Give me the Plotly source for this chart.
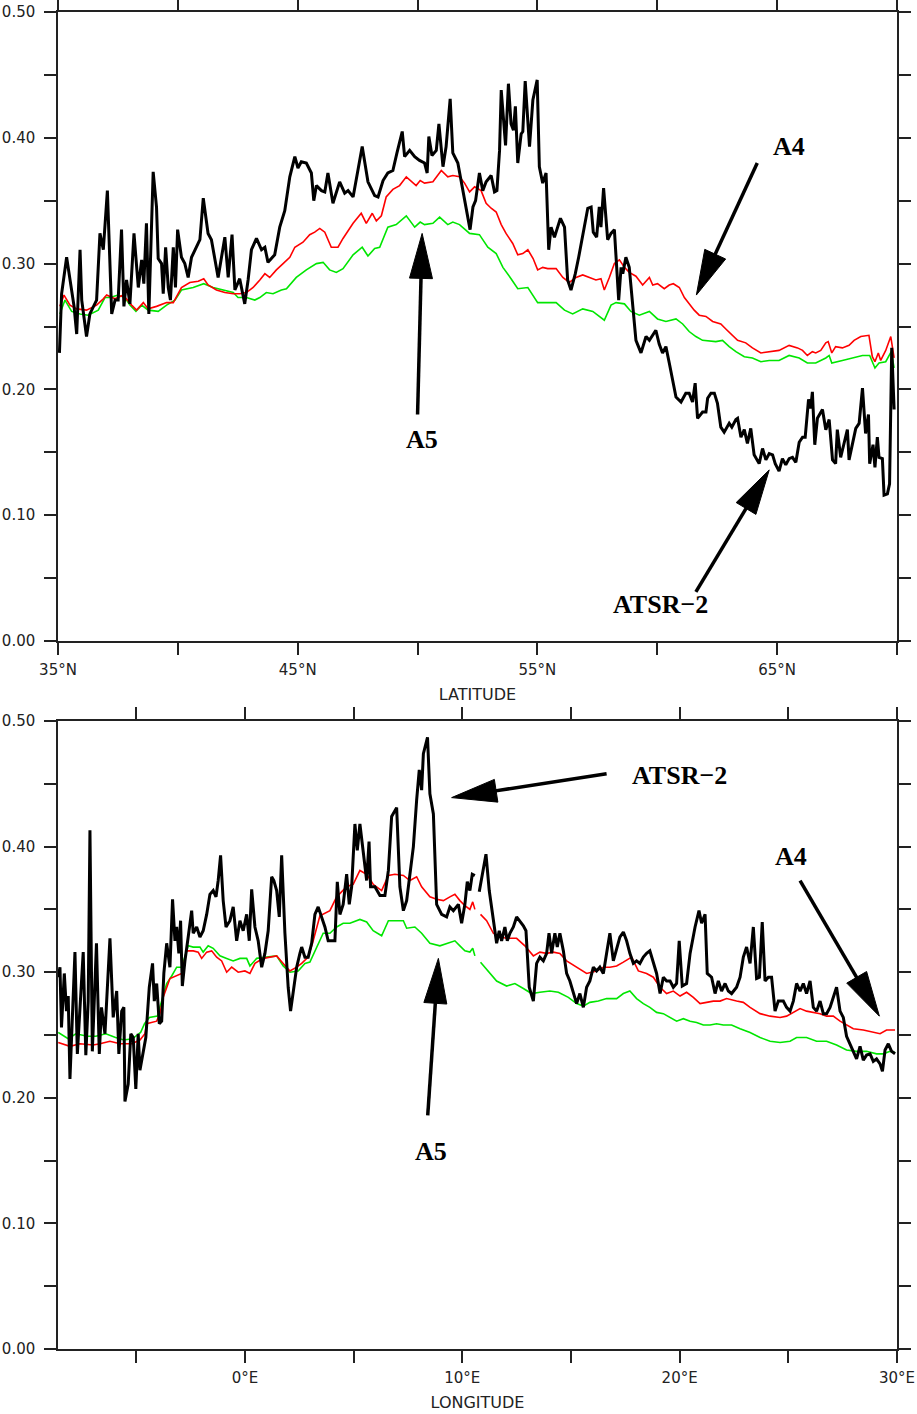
import plotly.graph_objects as go

# ---------------- data ----------------
# Top panel: latitude (deg N) vs value
top_black = [
    (35.06, 0.229), (35.15, 0.276), (35.36, 0.305), (35.57, 0.279), (35.67, 0.266), (35.78, 0.244),
    (35.92, 0.311), (35.99, 0.271), (36.19, 0.242), (36.33, 0.260), (36.61, 0.271), (36.75, 0.324),
    (36.89, 0.311), (37.06, 0.358), (37.24, 0.260), (37.38, 0.271), (37.51, 0.271), (37.65, 0.327),
    (37.75, 0.266), (37.86, 0.287), (38.00, 0.268), (38.17, 0.324), (38.35, 0.281), (38.49, 0.303),
    (38.58, 0.284), (38.69, 0.332), (38.79, 0.260), (38.97, 0.373), (39.11, 0.345), (39.18, 0.304),
    (39.32, 0.300), (39.39, 0.276), (39.49, 0.313), (39.60, 0.281), (39.69, 0.271), (39.81, 0.313),
    (39.90, 0.281), (39.99, 0.327), (40.15, 0.305), (40.29, 0.300), (40.43, 0.289), (40.57, 0.305),
    (40.78, 0.313), (40.92, 0.319), (41.06, 0.352), (41.26, 0.324), (41.40, 0.319), (41.54, 0.303),
    (41.68, 0.289), (41.82, 0.305), (41.96, 0.321), (42.10, 0.289), (42.26, 0.323), (42.38, 0.279),
    (42.58, 0.288), (42.79, 0.268), (42.93, 0.287), (43.07, 0.311), (43.28, 0.320), (43.49, 0.311),
    (43.63, 0.313), (43.76, 0.301), (44.04, 0.307), (44.25, 0.329), (44.46, 0.342), (44.67, 0.369),
    (44.88, 0.385), (45.01, 0.376), (45.15, 0.381), (45.36, 0.380), (45.57, 0.372), (45.67, 0.350),
    (45.78, 0.362), (45.99, 0.358), (46.13, 0.357), (46.26, 0.372), (46.47, 0.348), (46.75, 0.365),
    (46.96, 0.356), (47.10, 0.358), (47.31, 0.353), (47.51, 0.374), (47.69, 0.393), (47.93, 0.365),
    (48.21, 0.354), (48.35, 0.353), (48.56, 0.366), (48.76, 0.372), (48.97, 0.374), (49.14, 0.388),
    (49.36, 0.405), (49.46, 0.385), (49.67, 0.390), (49.88, 0.385), (50.08, 0.382), (50.29, 0.380),
    (50.40, 0.372), (50.47, 0.401), (50.60, 0.386), (50.78, 0.390), (50.89, 0.411), (51.06, 0.377),
    (51.19, 0.393), (51.36, 0.431), (51.47, 0.388), (51.68, 0.380), (51.89, 0.358), (52.03, 0.342),
    (52.19, 0.327), (52.31, 0.345), (52.42, 0.350), (52.58, 0.372), (52.72, 0.358), (52.86, 0.365),
    (53.07, 0.370), (53.21, 0.357), (53.31, 0.358), (53.42, 0.390), (53.49, 0.438), (53.67, 0.394),
    (53.79, 0.443), (53.90, 0.411), (54.00, 0.406), (54.08, 0.425), (54.18, 0.380), (54.32, 0.403),
    (54.39, 0.405), (54.49, 0.445), (54.67, 0.393), (54.81, 0.430), (54.99, 0.446), (55.08, 0.377),
    (55.22, 0.364), (55.36, 0.372), (55.47, 0.311), (55.57, 0.329), (55.71, 0.321), (55.81, 0.327),
    (55.96, 0.336), (56.13, 0.329), (56.26, 0.287), (56.40, 0.279), (56.58, 0.292), (56.72, 0.305),
    (56.82, 0.316), (56.96, 0.329), (57.10, 0.344), (57.24, 0.345), (57.33, 0.325), (57.47, 0.321),
    (57.58, 0.345), (57.65, 0.329), (57.76, 0.360), (57.93, 0.319), (58.07, 0.324), (58.21, 0.327),
    (58.39, 0.271), (58.49, 0.297), (58.56, 0.292), (58.69, 0.305), (58.83, 0.297), (59.11, 0.239),
    (59.32, 0.229), (59.53, 0.242), (59.67, 0.239), (59.94, 0.247), (60.08, 0.236), (60.22, 0.229),
    (60.36, 0.234), (60.50, 0.221), (60.64, 0.207), (60.78, 0.194), (60.99, 0.190), (61.19, 0.197),
    (61.33, 0.197), (61.47, 0.190), (61.58, 0.205), (61.68, 0.177), (61.89, 0.182), (62.03, 0.182),
    (62.10, 0.193), (62.24, 0.197), (62.38, 0.197), (62.51, 0.189), (62.65, 0.170), (62.79, 0.166),
    (63.00, 0.173), (63.11, 0.170), (63.28, 0.176), (63.35, 0.177), (63.49, 0.162), (63.63, 0.168),
    (63.76, 0.157), (63.90, 0.169), (64.04, 0.148), (64.25, 0.141), (64.39, 0.153), (64.53, 0.144),
    (64.67, 0.149), (64.81, 0.148), (64.92, 0.141), (65.08, 0.135), (65.22, 0.145), (65.36, 0.140),
    (65.50, 0.145), (65.64, 0.146), (65.78, 0.142), (65.92, 0.158), (66.06, 0.162), (66.17, 0.162),
    (66.31, 0.192), (66.40, 0.185), (66.47, 0.198), (66.57, 0.156), (66.68, 0.177), (66.89, 0.184),
    (67.03, 0.168), (67.17, 0.176), (67.31, 0.144), (67.44, 0.141), (67.51, 0.168), (67.65, 0.146),
    (67.79, 0.157), (67.93, 0.168), (68.00, 0.144), (68.14, 0.157), (68.28, 0.169), (68.42, 0.173),
    (68.56, 0.201), (68.69, 0.165), (68.81, 0.180), (68.86, 0.141), (69.00, 0.156), (69.08, 0.138),
    (69.18, 0.162), (69.25, 0.146), (69.39, 0.145), (69.46, 0.116), (69.60, 0.117), (69.69, 0.125),
    (69.78, 0.233), (69.88, 0.184),
]

top_red = [
    (35.08, 0.266), (35.25, 0.275), (35.50, 0.267), (35.78, 0.264), (36.19, 0.263), (36.61, 0.267),
    (36.89, 0.272), (37.03, 0.275), (37.38, 0.272), (37.72, 0.275), (38.07, 0.267), (38.28, 0.263),
    (38.56, 0.269), (38.76, 0.264), (39.11, 0.266), (39.53, 0.269), (39.81, 0.269), (40.15, 0.281),
    (40.50, 0.285), (40.85, 0.286), (41.08, 0.288), (41.26, 0.283), (41.61, 0.279), (41.96, 0.277),
    (42.31, 0.276), (42.58, 0.276), (42.86, 0.277), (43.14, 0.281), (43.42, 0.287), (43.63, 0.292),
    (43.83, 0.289), (44.11, 0.295), (44.39, 0.300), (44.67, 0.305), (44.88, 0.313), (45.22, 0.317),
    (45.50, 0.323), (45.71, 0.325), (45.92, 0.328), (46.13, 0.325), (46.40, 0.313), (46.68, 0.313),
    (46.89, 0.320), (47.31, 0.332), (47.65, 0.340), (47.86, 0.332), (48.11, 0.340), (48.28, 0.334),
    (48.49, 0.338), (48.69, 0.353), (48.97, 0.359), (49.25, 0.362), (49.53, 0.369), (49.74, 0.365),
    (49.94, 0.362), (50.11, 0.366), (50.29, 0.364), (50.64, 0.365), (50.99, 0.374), (51.26, 0.369),
    (51.47, 0.370), (51.75, 0.369), (51.96, 0.364), (52.17, 0.357), (52.38, 0.361), (52.65, 0.358),
    (52.86, 0.348), (53.07, 0.344), (53.28, 0.341), (53.49, 0.331), (53.69, 0.324), (53.97, 0.316),
    (54.18, 0.307), (54.39, 0.308), (54.60, 0.311), (54.82, 0.304), (55.01, 0.295), (55.22, 0.297),
    (55.43, 0.296), (55.78, 0.296), (56.06, 0.289), (56.33, 0.285), (56.61, 0.289), (56.89, 0.291),
    (57.17, 0.289), (57.44, 0.287), (57.65, 0.288), (57.79, 0.279), (58.00, 0.289), (58.21, 0.300),
    (58.42, 0.303), (58.63, 0.297), (58.83, 0.293), (59.11, 0.290), (59.39, 0.283), (59.67, 0.289),
    (59.81, 0.283), (60.01, 0.284), (60.29, 0.280), (60.50, 0.283), (60.67, 0.284), (60.92, 0.281),
    (61.13, 0.273), (61.33, 0.268), (61.54, 0.263), (61.75, 0.259), (62.03, 0.258), (62.31, 0.254),
    (62.65, 0.252), (62.86, 0.248), (63.14, 0.243), (63.35, 0.239), (63.69, 0.237), (63.97, 0.233),
    (64.32, 0.229), (64.67, 0.230), (65.08, 0.231), (65.50, 0.235), (65.85, 0.233), (66.06, 0.231),
    (66.26, 0.227), (66.47, 0.230), (66.61, 0.229), (66.82, 0.231), (67.03, 0.237), (67.13, 0.238),
    (67.28, 0.229), (67.44, 0.234), (67.72, 0.233), (68.00, 0.235), (68.21, 0.239), (68.49, 0.242),
    (68.83, 0.243), (68.97, 0.226), (69.08, 0.222), (69.22, 0.229), (69.32, 0.223), (69.53, 0.231),
    (69.74, 0.242), (69.88, 0.225),
]

top_green = [
    (35.08, 0.260), (35.29, 0.271), (35.57, 0.262), (35.92, 0.260), (36.26, 0.259), (36.68, 0.263),
    (36.96, 0.273), (37.17, 0.273), (37.51, 0.275), (37.79, 0.273), (38.00, 0.267), (38.25, 0.262),
    (38.49, 0.267), (38.76, 0.263), (39.18, 0.262), (39.53, 0.267), (39.88, 0.271), (40.15, 0.279),
    (40.64, 0.281), (41.08, 0.284), (41.47, 0.281), (41.89, 0.279), (42.31, 0.277), (42.51, 0.273),
    (42.86, 0.273), (43.21, 0.271), (43.42, 0.273), (43.69, 0.277), (43.97, 0.276), (44.32, 0.279),
    (44.53, 0.280), (44.94, 0.289), (45.36, 0.295), (45.78, 0.300), (46.06, 0.301), (46.33, 0.295),
    (46.61, 0.293), (46.89, 0.296), (47.31, 0.307), (47.69, 0.313), (47.93, 0.306), (48.21, 0.312),
    (48.42, 0.313), (48.76, 0.329), (49.11, 0.331), (49.53, 0.338), (49.88, 0.329), (50.11, 0.333),
    (50.29, 0.331), (50.64, 0.332), (50.92, 0.337), (51.26, 0.331), (51.47, 0.333), (51.75, 0.331),
    (52.17, 0.324), (52.58, 0.323), (52.93, 0.313), (53.28, 0.308), (53.56, 0.297), (53.90, 0.288),
    (54.18, 0.280), (54.60, 0.281), (55.01, 0.269), (55.36, 0.269), (55.78, 0.269), (56.13, 0.263),
    (56.47, 0.260), (56.89, 0.264), (57.31, 0.262), (57.79, 0.255), (58.07, 0.267), (58.28, 0.269),
    (58.63, 0.268), (58.90, 0.262), (59.25, 0.259), (59.67, 0.262), (60.01, 0.256), (60.36, 0.254),
    (60.78, 0.256), (61.06, 0.252), (61.33, 0.246), (61.61, 0.242), (61.89, 0.239), (62.44, 0.238),
    (62.72, 0.239), (63.00, 0.234), (63.28, 0.230), (63.63, 0.226), (63.97, 0.225), (64.32, 0.222),
    (64.67, 0.223), (65.08, 0.223), (65.50, 0.227), (65.92, 0.225), (66.26, 0.221), (66.61, 0.221),
    (67.03, 0.225), (67.17, 0.227), (67.28, 0.221), (67.72, 0.223), (68.14, 0.225), (68.56, 0.227),
    (68.86, 0.227), (69.08, 0.217), (69.25, 0.221), (69.53, 0.222), (69.76, 0.230), (69.88, 0.217),
]

# Bottom panel: longitude (deg E) vs value; None marks the data gap
bot_black = [
    (-8.59, 0.296), (-8.51, 0.304), (-8.44, 0.256), (-8.31, 0.299), (-8.21, 0.269), (-8.13, 0.281),
    (-8.05, 0.215), (-7.98, 0.251), (-7.82, 0.316), (-7.71, 0.235), (-7.59, 0.267), (-7.44, 0.316),
    (-7.32, 0.234), (-7.21, 0.277), (-7.13, 0.413), (-7.02, 0.237), (-6.83, 0.323), (-6.70, 0.235),
    (-6.60, 0.272), (-6.44, 0.251), (-6.21, 0.327), (-6.06, 0.264), (-5.90, 0.285), (-5.80, 0.235),
    (-5.67, 0.269), (-5.57, 0.272), (-5.52, 0.197), (-5.37, 0.211), (-5.25, 0.251), (-5.14, 0.248),
    (-5.02, 0.207), (-4.91, 0.251), (-4.83, 0.222), (-4.68, 0.238), (-4.56, 0.248), (-4.40, 0.288),
    (-4.25, 0.307), (-4.17, 0.277), (-4.06, 0.291), (-3.94, 0.259), (-3.83, 0.261), (-3.73, 0.299),
    (-3.60, 0.323), (-3.45, 0.304), (-3.33, 0.358), (-3.22, 0.325), (-3.14, 0.336), (-3.04, 0.315),
    (-2.96, 0.341), (-2.88, 0.289), (-2.76, 0.309), (-2.61, 0.328), (-2.45, 0.349), (-2.38, 0.331),
    (-2.22, 0.336), (-2.07, 0.328), (-1.92, 0.333), (-1.76, 0.346), (-1.61, 0.362), (-1.46, 0.365),
    (-1.33, 0.360), (-1.23, 0.373), (-1.12, 0.393), (-1.00, 0.357), (-0.87, 0.336), (-0.69, 0.341),
    (-0.54, 0.352), (-0.38, 0.325), (-0.23, 0.341), (-0.08, 0.333), (0.08, 0.346), (0.20, 0.325),
    (0.31, 0.366), (0.46, 0.336), (0.61, 0.325), (0.77, 0.304), (0.92, 0.315), (1.07, 0.333),
    (1.23, 0.376), (1.33, 0.373), (1.46, 0.365), (1.58, 0.344), (1.69, 0.393), (1.84, 0.331),
    (1.99, 0.288), (2.10, 0.269), (2.22, 0.285), (2.38, 0.304), (2.53, 0.315), (2.61, 0.320),
    (2.76, 0.312), (2.91, 0.312), (3.07, 0.323), (3.22, 0.346), (3.37, 0.352), (3.53, 0.344),
    (3.68, 0.336), (3.83, 0.325), (3.99, 0.325), (4.14, 0.325), (4.25, 0.372), (4.37, 0.346),
    (4.52, 0.354), (4.68, 0.378), (4.80, 0.354), (4.91, 0.368), (5.06, 0.418), (5.17, 0.397),
    (5.29, 0.418), (5.44, 0.394), (5.60, 0.373), (5.71, 0.404), (5.78, 0.368), (5.98, 0.368),
    (6.21, 0.361), (6.44, 0.361), (6.60, 0.381), (6.75, 0.424), (6.98, 0.431), (7.13, 0.368),
    (7.29, 0.349), (7.44, 0.357), (7.59, 0.378), (7.75, 0.400), (7.90, 0.437), (8.02, 0.461),
    (8.13, 0.445), (8.21, 0.474), (8.40, 0.487), (8.51, 0.442), (8.67, 0.426), (8.82, 0.354),
    (9.05, 0.346), (9.28, 0.344), (9.43, 0.352), (9.59, 0.349), (9.82, 0.354), (9.97, 0.339),
    (10.12, 0.354), (10.23, 0.372), (10.35, 0.365), (10.46, 0.378), (10.58, 0.377), (10.68, None),
    (10.78, 0.364), (10.97, 0.381), (11.09, 0.394), (11.24, 0.365), (11.40, 0.344), (11.58, 0.323),
    (11.70, 0.333), (11.81, 0.325), (11.96, 0.336), (12.07, 0.325), (12.19, 0.331), (12.35, 0.336),
    (12.50, 0.344), (12.65, 0.341), (12.81, 0.337), (12.93, 0.333), (13.08, 0.288), (13.27, 0.277),
    (13.42, 0.307), (13.57, 0.312), (13.73, 0.309), (13.88, 0.315), (13.99, 0.331), (14.11, 0.315),
    (14.26, 0.331), (14.37, 0.320), (14.49, 0.331), (14.65, 0.317), (14.80, 0.299), (14.95, 0.293),
    (15.11, 0.283), (15.26, 0.275), (15.41, 0.283), (15.57, 0.272), (15.72, 0.288), (15.87, 0.293),
    (16.03, 0.304), (16.18, 0.301), (16.33, 0.304), (16.49, 0.299), (16.64, 0.315), (16.79, 0.331),
    (16.95, 0.309), (17.10, 0.319), (17.25, 0.328), (17.41, 0.332), (17.56, 0.325), (17.71, 0.315),
    (17.87, 0.307), (18.02, 0.309), (18.17, 0.307), (18.33, 0.312), (18.48, 0.315), (18.63, 0.317),
    (18.79, 0.307), (18.94, 0.299), (19.10, 0.283), (19.25, 0.296), (19.40, 0.293), (19.56, 0.293),
    (19.71, 0.288), (19.86, 0.291), (19.98, 0.325), (20.12, 0.289), (20.32, 0.291), (20.48, 0.315),
    (20.71, 0.336), (20.89, 0.349), (21.01, 0.339), (21.17, 0.346), (21.27, 0.299), (21.47, 0.296),
    (21.63, 0.283), (21.78, 0.293), (21.93, 0.285), (22.09, 0.291), (22.24, 0.285), (22.39, 0.283),
    (22.62, 0.288), (22.78, 0.296), (22.93, 0.312), (23.08, 0.320), (23.24, 0.307), (23.39, 0.336),
    (23.54, 0.295), (23.67, 0.296), (23.80, 0.340), (23.93, 0.293), (24.08, 0.296), (24.23, 0.296),
    (24.39, 0.269), (24.54, 0.277), (24.77, 0.277), (24.92, 0.272), (25.08, 0.269), (25.23, 0.277),
    (25.38, 0.291), (25.54, 0.285), (25.69, 0.291), (25.84, 0.283), (26.00, 0.293), (26.15, 0.272),
    (26.30, 0.269), (26.46, 0.277), (26.61, 0.267), (26.76, 0.267), (26.92, 0.272), (27.07, 0.280),
    (27.22, 0.288), (27.38, 0.269), (27.53, 0.264), (27.68, 0.249), (27.84, 0.243), (27.99, 0.238),
    (28.14, 0.231), (28.30, 0.241), (28.45, 0.230), (28.60, 0.234), (28.76, 0.235), (28.91, 0.229),
    (29.06, 0.231), (29.22, 0.227), (29.33, 0.221), (29.45, 0.238), (29.60, 0.243), (29.75, 0.237),
    (29.91, 0.235),
]

bot_red = [
    (-8.59, 0.244), (-8.05, 0.241), (-7.59, 0.243), (-6.98, 0.242), (-6.67, 0.243), (-6.21, 0.245),
    (-5.75, 0.243), (-5.21, 0.243), (-4.83, 0.246), (-4.60, 0.251), (-4.52, 0.259), (-4.06, 0.261),
    (-3.91, 0.267), (-3.76, 0.280), (-3.45, 0.295), (-3.14, 0.297), (-2.91, 0.299), (-2.68, 0.317),
    (-2.38, 0.317), (-2.15, 0.316), (-1.99, 0.311), (-1.76, 0.316), (-1.53, 0.317), (-1.30, 0.312),
    (-1.07, 0.309), (-0.84, 0.300), (-0.61, 0.304), (-0.31, 0.300), (0.00, 0.301), (0.23, 0.299),
    (0.46, 0.307), (0.84, 0.311), (1.15, 0.312), (1.46, 0.313), (1.76, 0.307), (2.07, 0.301),
    (2.38, 0.304), (2.61, 0.307), (2.91, 0.312), (3.14, 0.325), (3.45, 0.345), (3.91, 0.349),
    (4.22, 0.360), (4.68, 0.368), (4.98, 0.370), (5.29, 0.381), (5.60, 0.378), (5.90, 0.370),
    (6.29, 0.365), (6.60, 0.377), (6.90, 0.378), (7.29, 0.377), (7.59, 0.373), (7.90, 0.376),
    (8.13, 0.368), (8.51, 0.360), (8.82, 0.358), (9.13, 0.357), (9.43, 0.360), (9.66, 0.362),
    (9.89, 0.357), (10.12, 0.353), (10.35, 0.350), (10.48, 0.356), (10.58, 0.350), (10.68, None),
    (10.84, 0.346), (11.12, 0.341), (11.43, 0.331), (11.73, 0.328), (12.04, 0.327), (12.50, 0.327),
    (12.88, 0.321), (13.27, 0.313), (13.57, 0.316), (13.88, 0.315), (14.19, 0.316), (14.49, 0.315),
    (14.80, 0.309), (15.26, 0.304), (15.72, 0.299), (16.18, 0.301), (16.49, 0.304), (16.79, 0.304),
    (17.10, 0.305), (17.41, 0.308), (17.79, 0.312), (18.10, 0.301), (18.48, 0.299), (18.79, 0.296),
    (19.10, 0.288), (19.40, 0.283), (19.71, 0.285), (20.02, 0.281), (20.32, 0.284), (20.63, 0.280),
    (20.94, 0.275), (21.24, 0.276), (21.55, 0.277), (21.86, 0.277), (22.16, 0.279), (22.62, 0.277),
    (22.93, 0.276), (23.24, 0.272), (23.70, 0.267), (24.16, 0.265), (24.62, 0.264), (24.92, 0.265),
    (25.23, 0.268), (25.54, 0.271), (25.84, 0.269), (26.15, 0.268), (26.46, 0.267), (26.76, 0.265),
    (27.07, 0.265), (27.38, 0.261), (27.68, 0.258), (27.99, 0.255), (28.45, 0.254), (28.91, 0.252),
    (29.22, 0.251), (29.52, 0.254), (29.91, 0.254),
]

bot_green = [
    (-8.59, 0.252), (-8.13, 0.247), (-7.78, 0.251), (-7.24, 0.249), (-6.86, 0.249), (-6.40, 0.251),
    (-5.95, 0.248), (-5.57, 0.246), (-5.18, 0.247), (-4.80, 0.252), (-4.62, 0.259), (-4.40, 0.264),
    (-4.03, 0.265), (-3.83, 0.277), (-3.60, 0.291), (-3.37, 0.297), (-3.14, 0.304), (-2.91, 0.304),
    (-2.76, 0.312), (-2.61, 0.321), (-2.38, 0.320), (-2.07, 0.320), (-1.92, 0.316), (-1.69, 0.321),
    (-1.46, 0.319), (-1.15, 0.313), (-0.84, 0.311), (-0.54, 0.309), (-0.23, 0.311), (0.08, 0.311),
    (0.23, 0.305), (0.54, 0.311), (1.00, 0.312), (1.46, 0.313), (1.76, 0.305), (2.07, 0.300),
    (2.45, 0.301), (2.76, 0.307), (2.99, 0.308), (3.30, 0.320), (3.60, 0.331), (3.91, 0.331),
    (4.22, 0.336), (4.52, 0.339), (4.83, 0.339), (5.29, 0.342), (5.60, 0.340), (5.90, 0.333),
    (6.29, 0.329), (6.60, 0.341), (6.98, 0.341), (7.29, 0.341), (7.44, 0.335), (7.82, 0.336),
    (8.13, 0.331), (8.51, 0.323), (8.97, 0.321), (9.36, 0.323), (9.66, 0.325), (9.89, 0.321),
    (10.12, 0.317), (10.35, 0.316), (10.48, 0.319), (10.58, 0.313), (10.68, None), (10.84, 0.308),
    (11.20, 0.301), (11.58, 0.293), (12.04, 0.289), (12.42, 0.291), (12.81, 0.287), (13.19, 0.283),
    (13.57, 0.284), (14.03, 0.285), (14.42, 0.284), (14.88, 0.280), (15.26, 0.275), (15.57, 0.273),
    (15.87, 0.276), (16.26, 0.277), (16.64, 0.279), (17.10, 0.279), (17.41, 0.283), (17.71, 0.285),
    (18.02, 0.279), (18.33, 0.275), (18.63, 0.272), (18.94, 0.268), (19.25, 0.267), (19.56, 0.264),
    (19.86, 0.261), (20.17, 0.263), (20.48, 0.261), (20.78, 0.260), (21.09, 0.258), (21.40, 0.258),
    (21.70, 0.259), (22.01, 0.258), (22.39, 0.258), (22.78, 0.255), (23.24, 0.252), (23.70, 0.248),
    (23.85, 0.247), (24.16, 0.245), (24.62, 0.244), (25.08, 0.245), (25.38, 0.248), (25.84, 0.248),
    (26.30, 0.245), (26.76, 0.245), (27.22, 0.242), (27.68, 0.238), (28.14, 0.237), (28.60, 0.237),
    (29.06, 0.235), (29.37, 0.235), (29.68, 0.237), (29.91, 0.236),
]

# Tick values and labels
lat_ticks = [35, 40, 45, 50, 55, 60, 65, 70]
lat_labels = ["35°N", "", "45°N", "", "55°N", "", "65°N", ""]
lon_ticks = [-5, 0, 5, 10, 15, 20, 25, 30]
lon_labels = ["", "0°E", "", "10°E", "", "20°E", "", "30°E"]
y_ticks = [0.0, 0.05, 0.10, 0.15, 0.20, 0.25, 0.30, 0.35, 0.40, 0.45, 0.50]
y_labels = ["0.00", "", "0.10", "", "0.20", "", "0.30", "", "0.40", "", "0.50"]

# Annotations: (label, text position, arrow tail, arrow tip) in data units
top_notes = [
    ("A4", (65.48, 0.393), (64.17, 0.380), (61.63, 0.275)),
    ("A5", (50.19, 0.160), (50.00, 0.180), (50.19, 0.324)),
    ("ATSR\u22122", (60.15, 0.029), (61.61, 0.039), (64.67, 0.136)),
]
bot_notes = [
    ("ATSR\u22122", (19.99, 0.457), (16.64, 0.458), (9.51, 0.439)),
    ("A4", (25.12, 0.392), (25.54, 0.373), (29.19, 0.265)),
    ("A5", (8.54, 0.157), (8.41, 0.186), (8.90, 0.311)),
]

# ---------------- figure ----------------
W, H = 917, 1414
ML, MR, MT, MB = 58, 20, 12, 65
plot_w = W - ML - MR
plot_h = H - MT - MB
top_h = 629
bot_h = 628
top_dom = [1 - top_h / plot_h, 1.0]
bot_dom = [0.0, bot_h / plot_h]
top_xr = [35, 70]
bot_xr = [-8.6, 30]
yr = [0, 0.5]

fig = go.Figure()


def split(pairs):
    return [p[0] for p in pairs], [p[1] for p in pairs]


series = [
    (top_green, "#00e600", 1.6, "x", "y"),
    (top_red, "#ff0000", 1.6, "x", "y"),
    (top_black, "#000000", 3.0, "x", "y"),
    (bot_green, "#00e600", 1.6, "x2", "y2"),
    (bot_red, "#ff0000", 1.6, "x2", "y2"),
    (bot_black, "#000000", 3.0, "x2", "y2"),
]
for data, col, w, xa, ya in series:
    xs, ys = split(data)
    fig.add_trace(go.Scatter(x=xs, y=ys, mode="lines", line=dict(color=col, width=w),
                             xaxis=xa, yaxis=ya, showlegend=False, hoverinfo="skip"))

tickfont = dict(family="DejaVu Sans", size=15, color="#222222")
titlefont = dict(family="DejaVu Sans", size=16, color="#222222")
axis_common = dict(showgrid=False, zeroline=False, showline=True, linecolor="#222222",
                   linewidth=1.5, mirror="ticks", ticks="outside", ticklen=12,
                   tickwidth=1.5, tickcolor="#222222", tickfont=tickfont, automargin=False)

fig.update_layout(
    width=W, height=H,
    margin=dict(l=ML, r=MR, t=MT, b=MB, autoexpand=False),
    paper_bgcolor="white", plot_bgcolor="white",
    showlegend=False,
    xaxis=dict(domain=[0, 1], anchor="y", range=top_xr, tickmode="array",
               tickvals=lat_ticks, ticktext=lat_labels, ticklabelstandoff=2,
               title=dict(text="LATITUDE", font=titlefont, standoff=11),
               **axis_common),
    yaxis=dict(domain=top_dom, anchor="x", range=yr, tickmode="array",
               tickvals=y_ticks, ticktext=y_labels, ticklabelstandoff=6, **axis_common),
    xaxis2=dict(domain=[0, 1], anchor="y2", range=bot_xr, tickmode="array",
                tickvals=lon_ticks, ticktext=lon_labels, ticklabelstandoff=2,
                title=dict(text="LONGITUDE", font=titlefont, standoff=11),
                **axis_common),
    yaxis2=dict(domain=bot_dom, anchor="x2", range=yr, tickmode="array",
                tickvals=y_ticks, ticktext=y_labels, ticklabelstandoff=6, **axis_common),
)

HEAD_LEN = 45.0
HEAD_HALF = 11.5


def add_arrow(note, xr, h, xref, yref):
    label, txt, tail, tip = note
    sx = plot_w / (xr[1] - xr[0])
    sy = h / (yr[1] - yr[0])
    # pixel vector tail->tip (screen y grows downward)
    dx = (tip[0] - tail[0]) * sx
    dy = -(tip[1] - tail[1]) * sy
    n = (dx * dx + dy * dy) ** 0.5
    ux, uy = dx / n, dy / n
    bx, by = dx - ux * HEAD_LEN, dy - uy * HEAD_LEN
    px, py = -uy, ux

    def to_data(vx, vy):
        return tail[0] + vx / sx, tail[1] - vy / sy

    b = to_data(bx + ux * 4, by + uy * 4)
    c1 = to_data(bx + px * HEAD_HALF, by + py * HEAD_HALF)
    c2 = to_data(bx - px * HEAD_HALF, by - py * HEAD_HALF)
    fig.add_shape(type="line", xref=xref, yref=yref, x0=tail[0], y0=tail[1], x1=b[0], y1=b[1],
                  line=dict(color="black", width=3.5))
    path = f"M {tip[0]},{tip[1]} L {c1[0]},{c1[1]} L {c2[0]},{c2[1]} Z"
    fig.add_shape(type="path", xref=xref, yref=yref, path=path,
                  fillcolor="black", line=dict(color="black", width=1))
    fig.add_annotation(x=txt[0], y=txt[1], xref=xref, yref=yref, text=f"<b>{label}</b>",
                       showarrow=False,
                       font=dict(family="Liberation Serif", size=26, color="black"))


for nt in top_notes:
    add_arrow(nt, top_xr, top_h, "x", "y")
for nt in bot_notes:
    add_arrow(nt, bot_xr, bot_h, "x2", "y2")

fig.write_html("out.html")
